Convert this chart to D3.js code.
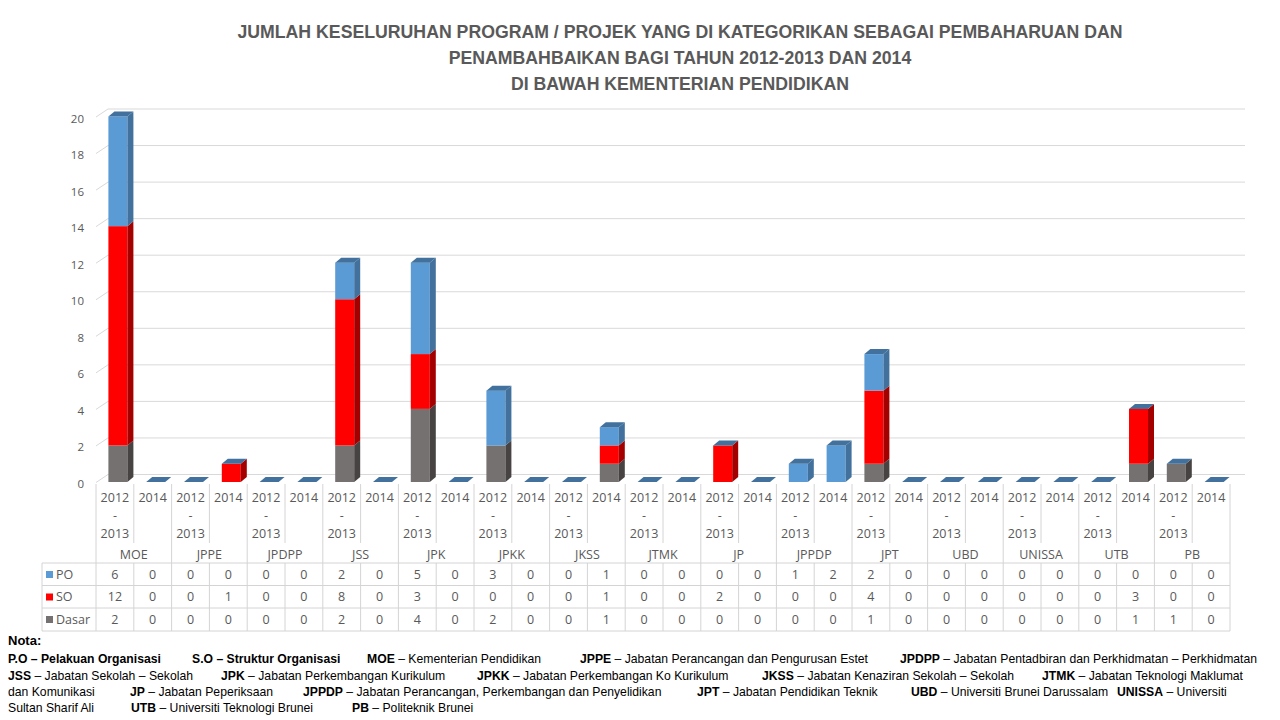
<!DOCTYPE html>
<html><head><meta charset="utf-8">
<script src="https://cdn.jsdelivr.net/npm/d3@7"></script>
<style>body{margin:0;background:#fff}svg{display:block}</style>
</head><body>
<script>
// ---------------- DATA ----------------
const groups = ["MOE","JPPE","JPDPP","JSS","JPK","JPKK","JKSS","JTMK","JP","JPPDP","JPT","UBD","UNISSA","UTB","PB"];
const periods = ["2012-2013","2014"];
const seriesNames = ["PO","SO","Dasar"];
const poValues    = [6,0, 0,0, 0,0, 2,0, 5,0, 3,0, 0,1, 0,0, 0,0, 1,2, 2,0, 0,0, 0,0, 0,0, 0,0];
const soValues    = [12,0, 0,1, 0,0, 8,0, 3,0, 0,0, 0,1, 0,0, 2,0, 0,0, 4,0, 0,0, 0,0, 0,3, 0,0];
const dasarValues = [2,0, 0,0, 0,0, 2,0, 4,0, 2,0, 0,1, 0,0, 0,0, 0,0, 1,0, 0,0, 0,0, 0,1, 1,0];
const yTicks = [0,2,4,6,8,10,12,14,16,18,20];
const titleLines = [
  "JUMLAH KESELURUHAN PROGRAM / PROJEK YANG DI KATEGORIKAN  SEBAGAI PEMBAHARUAN DAN",
  "PENAMBAHBAIKAN BAGI TAHUN 2012-2013 DAN 2014",
  "DI BAWAH KEMENTERIAN  PENDIDIKAN"
];
const notesHeader = "Nota:";
const notes = [
  [{b:"P.O – Pelakuan Organisasi", r:"", x:8}, {b:"S.O – Struktur Organisasi", r:"", x:192}, {b:"MOE", r:" – Kementerian Pendidikan", x:367}, {b:"JPPE", r:" – Jabatan Perancangan dan Pengurusan Estet", x:580}, {b:"JPDPP", r:" – Jabatan Pentadbiran dan Perkhidmatan – Perkhidmatan", x:900}],
  [{b:"JSS", r:" – Jabatan Sekolah  – Sekolah", x:8}, {b:"JPK", r:" – Jabatan Perkembangan Kurikulum", x:221}, {b:"JPKK", r:" – Jabatan Perkembangan Ko Kurikulum", x:477}, {b:"JKSS", r:" – Jabatan Kenaziran Sekolah  – Sekolah", x:762}, {b:"JTMK", r:" – Jabatan Teknologi Maklumat", x:1042}],
  [{b:"", r:"dan Komunikasi", x:8}, {b:"JP", r:" – Jabatan Peperiksaan", x:130}, {b:"JPPDP", r:" – Jabatan Perancangan, Perkembangan dan Penyelidikan", x:303}, {b:"JPT", r:" – Jabatan Pendidikan  Teknik", x:697}, {b:"UBD", r:" – Universiti  Brunei Darussalam", x:911}, {b:"UNISSA", r:" – Universiti", x:1117}],
  [{b:"", r:"Sultan Sharif Ali", x:8}, {b:"UTB", r:" – Universiti  Teknologi Brunei", x:131}, {b:"PB", r:" – Politeknik Brunei", x:352}]
];

// ---------------- SETUP ----------------
const W = 1280, H = 720;
const svg = d3.select("body").append("svg").attr("width", W).attr("height", H);
const FONT = "'Open Sans', sans-serif";
const TXT = "#595959";
const GRID = "#d9d9d9";

const nCols = groups.length * periods.length;
const cols = d3.range(nCols);
const x = d3.scaleBand().domain(cols).range([96, 1230]).padding(0);
const y = d3.scaleLinear().domain([0, 20]).range([482, 116.5]);
const colW = x.bandwidth();

const WDX = 12, WDY = -7.5;   // back wall depth offset
const BDX = 6, BDY = -5;      // bar depth offset
const barW = 19, barShift = 3;

const colors = {
  PO:    {front:"#5b9bd5", side:"#41719c", top:"#41719c"},
  SO:    {front:"#ff0000", side:"#a50000", top:"#41719c"},
  Dasar: {front:"#767171", side:"#474343", top:"#41719c"}
};

// ---------------- TITLE ----------------
svg.append("g").selectAll("text").data(titleLines).join("text")
  .attr("x", 680).attr("y", (d, i) => 37.5 + i * 26)
  .attr("text-anchor", "middle")
  .style("font-family", "'Liberation Sans Narrow', sans-serif")
  .style("font-weight", "bold").style("font-size", "17.7px")
  .attr("fill", TXT).text(d => d);

// ---------------- GRID / AXIS ----------------
const grid = svg.append("g");
grid.selectAll("line.g").data(yTicks).join("line").attr("class", "g")
  .attr("x1", 96 + WDX).attr("x2", 1245)
  .attr("y1", d => y(d) + WDY).attr("y2", d => y(d) + WDY)
  .attr("stroke", GRID).attr("stroke-width", 1);
grid.selectAll("line.s").data(yTicks).join("line").attr("class", "s")
  .attr("x1", 96).attr("x2", 96 + WDX)
  .attr("y1", d => y(d) + 0.5).attr("y2", d => y(d) + WDY)
  .attr("stroke", GRID).attr("stroke-width", 1);
grid.selectAll("text").data(yTicks).join("text")
  .attr("x", 84).attr("y", d => y(d) + 2).attr("dy", "0.35em")
  .attr("text-anchor", "end")
  .style("font-family", FONT).style("font-size", "11.5px")
  .attr("fill", TXT).text(d => d);

// ---------------- BARS ----------------
const rows = cols.map(i => ({col: i, Dasar: dasarValues[i], SO: soValues[i], PO: poValues[i]}));
const stack = d3.stack().keys(["Dasar", "SO", "PO"])(rows);
const bars = svg.append("g");
const fx0 = i => x(i) + colW / 2 + barShift - barW / 2;
const fx1 = i => fx0(i) + barW;

cols.forEach(i => {
  const g = bars.append("g");
  stack.forEach(s => {
    const d = s[i];
    const key = s.key;
    if (d[1] - d[0] <= 0) return;
    const yb = y(d[0]), yt = y(d[1]);
    g.append("rect").attr("x", fx0(i)).attr("y", yt).attr("width", barW).attr("height", yb - yt)
      .attr("fill", colors[key].front);
    g.append("path").attr("d", `M${fx1(i)},${yb}L${fx1(i)},${yt}L${fx1(i)+BDX},${yt+BDY}L${fx1(i)+BDX},${yb+BDY}Z`)
      .attr("fill", colors[key].side);
  });
  const total = stack[stack.length - 1][i][1];
  const yt = y(total);
  g.append("path").attr("d", `M${fx0(i)},${yt}L${fx1(i)},${yt}L${fx1(i)+BDX},${yt+BDY}L${fx0(i)+BDX},${yt+BDY}Z`)
    .attr("fill", colors.PO.top);
});

// ---------------- DATA TABLE ----------------
const table = svg.append("g");
const rowLines = [563, 585.5, 608, 631];
const rowCenters = [574.5, 597, 619.5];
const tableLine = "#d4d4d4";
d3.range(nCols + 1).forEach(i => {
  const xx = 96 + i * colW;
  if (i % 2 === 0) {
    table.append("line").attr("x1", xx).attr("x2", xx).attr("y1", 484).attr("y2", 631).attr("stroke", tableLine);
  } else {
    table.append("line").attr("x1", xx).attr("x2", xx).attr("y1", 484).attr("y2", 543).attr("stroke", tableLine);
    table.append("line").attr("x1", xx).attr("x2", xx).attr("y1", 563).attr("y2", 631).attr("stroke", tableLine);
  }
});
rowLines.forEach(yy => table.append("line").attr("x1", 42).attr("x2", 1230).attr("y1", yy).attr("y2", yy).attr("stroke", tableLine));
table.append("line").attr("x1", 42).attr("x2", 42).attr("y1", 563).attr("y2", 631).attr("stroke", tableLine);

const tStyle = sel => sel.style("font-family", FONT).style("font-size", "12.5px").attr("fill", TXT).attr("text-anchor", "middle");

cols.forEach(i => {
  const cx = x(i) + colW / 2;
  const p = periods[i % 2];
  const lines = p.includes("-") ? [p.split("-")[0], "-", p.split("-")[1]] : [p];
  lines.forEach((t, k) => {
    table.append("text").attr("x", cx).attr("y", 498 + k * 18).attr("dy", "0.35em").call(tStyle).text(t);
  });
  [poValues, soValues, dasarValues].forEach((arr, r) => {
    table.append("text").attr("x", cx).attr("y", rowCenters[r]).attr("dy", "0.35em").call(tStyle).text(arr[i]);
  });
});
groups.forEach((gname, gi) => {
  const cx = 96 + (gi * 2 + 1) * colW;
  table.append("text").attr("x", cx).attr("y", 555).attr("dy", "0.35em").call(tStyle).text(gname);
});
seriesNames.forEach((s, r) => {
  table.append("rect").attr("x", 46).attr("y", rowCenters[r] - 3.5).attr("width", 7).attr("height", 7).attr("fill", colors[s].front);
  table.append("text").attr("x", 56).attr("y", rowCenters[r]).attr("dy", "0.35em")
    .style("font-family", FONT).style("font-size", "12.5px").attr("fill", TXT).text(s);
});

// ---------------- NOTES ----------------
const notesG = svg.append("g").style("font-family", "'Liberation Sans', sans-serif").style("font-size", "12.2px").attr("fill", "#000");
notesG.append("text").attr("x", 8).attr("y", 644.5).style("font-weight", "bold").style("font-size", "13px").text(notesHeader);
const baselines = [662.5, 679.5, 695.5, 711.5];
notes.forEach((line, li) => {
  line.forEach(seg => {
    const t = notesG.append("text").attr("x", seg.x).attr("y", baselines[li]);
    if (seg.b) t.append("tspan").style("font-weight", "bold").text(seg.b);
    if (seg.r) t.append("tspan").text(seg.r);
  });
});
</script>
</body></html>
